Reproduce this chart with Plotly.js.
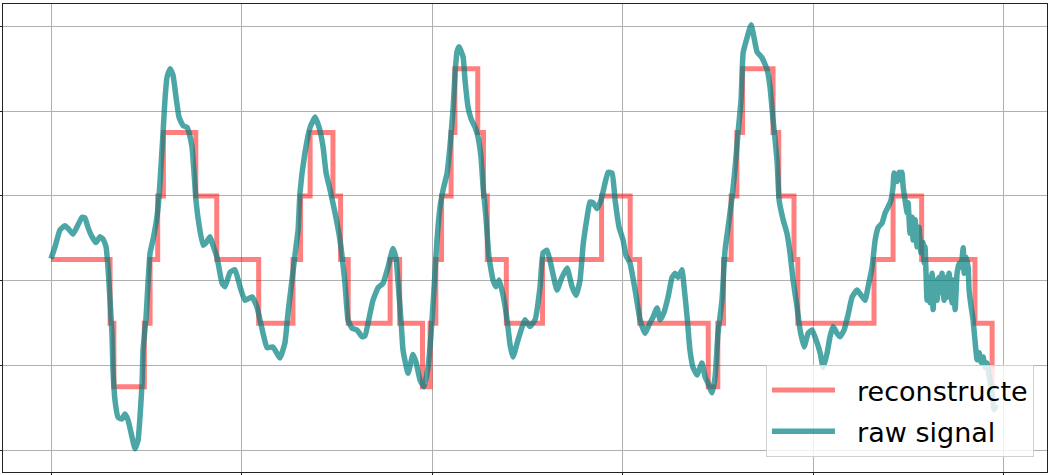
<!DOCTYPE html>
<html>
<head>
<meta charset="utf-8">
<script src="https://cdn.plot.ly/plotly-3.0.1.min.js"></script>
<style>
  html, body { margin: 0; padding: 0; background: #fff; }
  #plot { width: 1052px; height: 475px; }
</style>
</head>
<body>
<div id="plot"></div>
<script>
// step reconstruction: sample where each level starts, and its level
var reconX = [0, 31, 33, 49, 52, 56, 59, 76, 87, 109, 127, 131, 136, 148, 152, 156,
  178, 183, 195, 199, 202, 205, 210, 212, 224, 227, 229, 239, 258, 289, 304, 309,
  345, 350, 353, 357, 360, 363, 379, 382, 390, 392, 432, 442, 457, 485, 494, 496];
var reconY = [-0.75, -1.5, -2.25, -1.5, -0.75, 0, 0.75, 0, -0.75, -1.5, -0.75, 0, 0.75, 0, -0.75, -1.5,
  -0.75, -1.5, -2.25, -1.5, -0.75, 0, 0.75, 1.5, 0.75, 0, -0.75, -1.5, -0.75, 0, -0.75, -1.5,
  -2.25, -1.5, -0.75, 0, 0.75, 1.5, 0.75, 0, -0.75, -1.5, -0.75, 0, -0.75, -1.5, -2.25, -2.25];

// raw signal
var rawX = [0, 2.1, 4.7, 7.3, 8.9, 11.5, 14.2, 16.3, 17.8, 19.4, 21.5, 23.6, 25.7, 27.3, 28.9, 29.9,
  31.0, 32.0, 32.5, 33.6, 35.2, 37.3, 38.8, 40.4, 42.0, 44.1, 45.7, 46.7, 47.8, 48.3, 49.9, 50.9,
  52.0, 53.5, 55.6, 56.7, 57.7, 58.8, 59.8, 60.9, 62.5, 64.0, 65.6, 67.2, 69.3, 71.4, 72.4, 74.0,
  75.1, 76.1, 77.7, 79.8, 81.4, 83.5, 85.0, 87.1, 89.8, 91.3, 94.0, 96.6, 99.2, 101.8, 105.5, 108.1,
  111.3, 113.4, 116.5, 120.2, 122.8, 124.4, 126.5, 128.6, 129.7, 130.7, 133.3, 136.0, 138.6, 140.7, 142.8, 144.4,
  146.5, 149.1, 151.7, 154.3, 155.9, 158.0, 160.6, 163.3, 164.8, 167.5, 169.0, 171.7, 174.3, 176.9, 179.5, 181.1,
  182.2, 183.7, 184.8, 187.4, 190.0, 191.6, 193.7, 195.8, 197.9, 199.5, 201.0, 202.6, 204.2, 205.8, 207.9, 209.4,
  211.0, 212.1, 213.1, 214.2, 216.3, 217.3, 218.9, 220.5, 222.6, 224.1, 225.7, 226.8, 228.3, 229.9, 232.0, 233.6,
  235.2, 237.3, 239.4, 241.0, 242.5, 245.1, 248.8, 251.4, 254.1, 256.7, 258.3, 260.4, 263.0, 265.6, 268.2, 270.9,
  273.5, 275.6, 277.7, 279.3, 281.4, 282.9, 284.5, 286.6, 288.7, 290.8, 292.4, 294.5, 296.1, 298.2, 300.3, 301.8,
  303.9, 306.6, 309.2, 311.8, 313.9, 316.0, 318.1, 319.7, 321.8, 323.9, 326.0, 327.6, 329.1, 331.2, 332.3, 333.9,
  335.4, 337.0, 339.1, 341.7, 343.3, 344.9, 347.0, 348.6, 350.1, 352.2, 353.8, 355.4, 357.5, 359.1, 360.6, 362.2,
  363.3, 365.4, 367.5, 369.0, 370.6, 373.2, 375.9, 377.4, 379.0, 381.1, 382.2, 384.3, 386.3, 387.9, 389.5, 391.6,
  393.2, 395.3, 397.4, 399.5, 402.1, 403.7, 405.3, 407.4, 408.9, 410.5, 412.6, 414.2, 416.3, 418.4, 420.5, 423.1,
  425.2, 427.3, 428.9, 431.0, 432.6, 434.2, 436.2, 437.8, 439.4, 440.9, 442.0, 442.5, 444.1, 445.2, 446.2, 446.7,
  447.3, 448.3, 449.4, 449.9, 450.9, 452.0, 452.5, 453.6, 454.6, 455.6, 456.7, 457.7, 458.3, 458.8, 459.8, 460.4,
  461.4, 462.5, 463.0, 464.0, 465.1, 466.1, 467.2, 467.7, 468.8, 469.8, 470.9, 471.4, 473.0, 473.5, 474.6, 475.6,
  476.7, 477.7, 478.8, 479.3, 480.3, 481.4, 481.9, 483.0, 484.0, 485.1, 486.1, 487.2, 488.2, 489.3, 490.3, 491.3,
  492.4, 494.0, 495.0, 496.1];
var rawY = [-0.74, -0.60, -0.40, -0.35, -0.38, -0.45, -0.34, -0.25, -0.26, -0.37, -0.48, -0.55, -0.48, -0.51, -0.60, -0.84,
  -1.23, -1.62, -2.02, -2.41, -2.61, -2.63, -2.57, -2.64, -2.79, -2.98, -2.88, -2.61, -2.21, -1.82, -1.43, -1.03,
  -0.67, -0.52, -0.25, -0.01, 0.34, 0.74, 1.13, 1.40, 1.50, 1.43, 1.17, 0.93, 0.83, 0.81, 0.75, 0.58,
  0.27, -0.05, -0.34, -0.58, -0.55, -0.48, -0.58, -0.72, -1.03, -1.07, -0.90, -0.87, -1.07, -1.23, -1.19, -1.31,
  -1.62, -1.79, -1.78, -1.91, -1.73, -1.38, -0.99, -0.60, -0.40, 0.04, 0.51, 0.81, 0.93, 0.81, 0.58, 0.27,
  0.07, -0.20, -0.52, -1.03, -1.46, -1.56, -1.58, -1.66, -1.65, -1.38, -1.23, -1.08, -1.03, -0.84, -0.62, -0.73,
  -1.03, -1.46, -1.82, -2.09, -1.87, -1.96, -2.17, -2.25, -2.02, -1.62, -1.11, -0.52, -0.13, 0.07, 0.27, 0.58,
  1.01, 1.45, 1.70, 1.76, 1.64, 1.37, 1.05, 0.91, 0.81, 0.70, 0.46, 0.11, -0.25, -0.72, -0.99, -1.07,
  -0.99, -1.17, -1.46, -1.76, -1.90, -1.70, -1.46, -1.54, -1.46, -1.07, -0.67, -0.64, -0.87, -1.11, -0.96, -0.85,
  -1.07, -1.17, -0.99, -0.58, -0.25, -0.07, -0.08, -0.15, -0.05, 0.15, 0.28, 0.27, -0.05, -0.37, -0.52, -0.70,
  -0.79, -1.11, -1.46, -1.62, -1.52, -1.43, -1.32, -1.46, -1.37, -1.19, -0.96, -0.91, -0.96, -0.87, -1.07, -1.43,
  -1.82, -2.02, -2.11, -1.97, -2.13, -2.21, -2.32, -2.13, -1.62, -1.23, -0.64, -0.37, -0.01, 0.34, 0.74, 1.13,
  1.69, 1.87, 2.02, 1.87, 1.70, 1.63, 1.49, 1.29, 0.90, 0.42, -0.05, -0.28, -0.44, -0.67, -0.99, -1.31,
  -1.58, -1.78, -1.62, -1.58, -1.73, -1.85, -2.02, -1.85, -1.66, -1.54, -1.62, -1.66, -1.58, -1.40, -1.19, -1.11,
  -1.17, -1.23, -1.07, -0.84, -0.52, -0.37, -0.32, -0.20, -0.13, -0.05, 0.11, 0.27, 0.17, 0.28, 0.19, 0.28,
  0.11, -0.05, -0.20, -0.08, -0.44, -0.25, -0.52, -0.28, -0.60, -0.37, -0.67, -0.55, -0.79, -0.60, -1.23, -0.96,
  -1.26, -0.91, -1.34, -0.99, -1.23, -0.96, -1.14, -0.91, -1.23, -0.96, -1.19, -0.91, -1.26, -0.99, -1.34, -0.91,
  -0.79, -0.84, -0.61, -0.91, -0.72, -0.84, -1.11, -1.31, -1.46, -1.73, -1.93, -1.85, -1.96, -1.90, -2.02, -1.97,
  -2.13, -2.32, -2.52, -2.46];

var xTicks = [0, 100, 200, 300, 400, 500];
var yTicks = [-3, -2, -1, 0, 1, 2];

var recon = {
  x: reconX,
  y: reconY,
  mode: 'lines',
  name: '\u00a0\u00a0reconstructe',
  legendgroup: 'a',
  line: { shape: 'hv', color: 'rgba(255,0,0,0.5)', width: 5 },
};

var raw = {
  x: rawX,
  y: rawY,
  mode: 'lines',
  name: '\u00a0\u00a0raw signal',
  legendgroup: 'b',
  line: { shape: 'spline', smoothing: 0.4, color: 'rgba(0,128,128,0.7)', width: 5.5 },
};

var axisCommon = {
  showgrid: true,
  gridcolor: '#b0b0b0',
  gridwidth: 1,
  zeroline: false,
  showline: true,
  mirror: true,
  linecolor: '#222',
  linewidth: 1,
  ticks: 'outside',
  ticklen: 4,
  tickcolor: '#222',
  showticklabels: false,
};

var layout = {
  width: 1052,
  height: 475,
  margin: { l: 3, r: 5, t: 4, b: 3 },
  paper_bgcolor: '#fff',
  plot_bgcolor: '#fff',
  font: { family: 'DejaVu Sans', color: '#000' },
  showlegend: true,
  xaxis: Object.assign({}, axisCommon, { range: [-25.2, 522.8], tickvals: xTicks }),
  yaxis: Object.assign({}, axisCommon, { range: [-3.255, 2.264], tickvals: yTicks }),
  legend: {
    x: 0.9875, y: 0.032, xanchor: 'right', yanchor: 'bottom',
    bgcolor: 'rgba(255,255,255,0.8)',
    bordercolor: '#d0d0d0', borderwidth: 1,
    font: { size: 27, family: 'DejaVu Sans' },
    itemwidth: 63,
    traceorder: 'grouped',
    tracegroupgap: 3,
  },
};

Plotly.newPlot('plot', [recon, raw], layout, { displayModeBar: false });
</script>
</body>
</html>
